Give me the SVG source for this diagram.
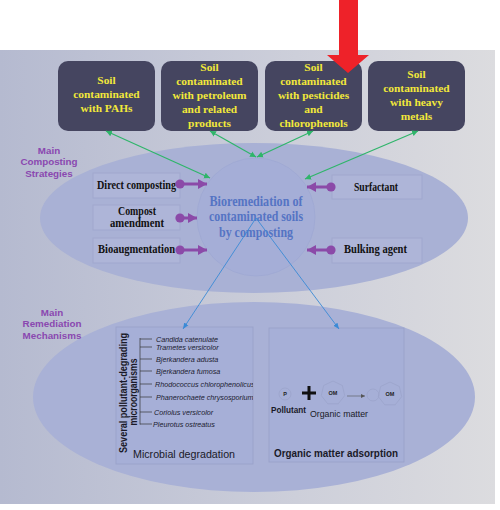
<svg xmlns="http://www.w3.org/2000/svg" width="500" height="510" viewBox="0 0 500 510">
  <defs>
    <linearGradient id="bg" x1="0" y1="0" x2="1" y2="0">
      <stop offset="0" stop-color="#b5bad0"/>
      <stop offset="0.6" stop-color="#cdcfda"/>
      <stop offset="1" stop-color="#dcdcdf"/>
    </linearGradient>
    <marker id="pdot" markerUnits="userSpaceOnUse" markerWidth="12" markerHeight="12" refX="6" refY="6" orient="auto">
      <circle cx="6" cy="6" r="4.6" fill="#8b4aa8"/>
    </marker>
    <marker id="phead" markerUnits="userSpaceOnUse" markerWidth="12" markerHeight="12" refX="9" refY="6" orient="auto">
      <path d="M0,1 L9,6 L0,11 Z" fill="#8b4aa8"/>
    </marker>
    <marker id="gend" markerUnits="userSpaceOnUse" markerWidth="8" markerHeight="8" refX="6" refY="4" orient="auto-start-reverse">
      <path d="M0,1 L6,4 L0,7 Z" fill="#2fb56a"/>
    </marker>
    <marker id="bend" markerUnits="userSpaceOnUse" markerWidth="8" markerHeight="8" refX="6" refY="4" orient="auto">
      <path d="M0,1.5 L6,4 L0,6.5 Z" fill="#3a8ad6"/>
    </marker>
    <marker id="kend" markerUnits="userSpaceOnUse" markerWidth="6" markerHeight="6" refX="4" refY="3" orient="auto">
      <path d="M0,1 L4,3 L0,5 Z" fill="#555"/>
    </marker>
    <polygon id="hept" points="0,-12 9.38,-7.48 11.7,2.67 5.21,10.81 -5.21,10.81 -11.7,2.67 -9.38,-7.48"/>
    <clipPath id="mclip"><rect x="116" y="327" width="137" height="137"/></clipPath>
    <style>
      .src rect { fill:#454560; }
      .src text { font-family:"Liberation Serif","Times New Roman",serif; font-weight:bold; font-size:11.4px; fill:#f2e83a; text-anchor:middle; }
      .strat rect { fill:#aeb5d8; stroke:#9ea6cc; stroke-width:0.8; }
      .strat text { font-family:"Liberation Serif","Times New Roman",serif; font-weight:bold; font-size:13px; fill:#111; text-anchor:middle; }
      .strat text.two { font-size:11.5px; }
      .hub text { font-family:"Liberation Serif","Times New Roman",serif; font-weight:bold; font-size:14.5px; fill:#5574c4; text-anchor:middle; }
      .lbl { font-family:"Liberation Sans",Arial,sans-serif; font-weight:bold; font-size:9.8px; fill:#8a48b0; text-anchor:middle; }
      .mech rect { fill:#a6afd7; stroke:#98a0c8; stroke-width:0.8; }
      .sans { font-family:"Liberation Sans",Arial,sans-serif; fill:#1a1a28; }
      .sp { font-family:"Liberation Sans",Arial,sans-serif; font-style:italic; font-size:7.2px; fill:#202030; }
      .pconn { stroke:#8b4aa8; stroke-width:3; fill:none; marker-start:url(#pdot); marker-end:url(#phead); }
      .gconn { stroke:#2fb56a; stroke-width:1.2; fill:none; marker-start:url(#gend); marker-end:url(#gend); }
      .bconn { stroke:#3a8ad6; stroke-width:0.9; fill:none; marker-end:url(#bend); }
      .om { fill:none; stroke:#9aa2c8; stroke-width:0.7; }
      .omt { font-family:"Liberation Sans",Arial,sans-serif; font-weight:bold; font-size:5.5px; fill:#222; text-anchor:middle; }
    </style>
  </defs>

  <rect x="0" y="0" width="500" height="510" fill="#ffffff"/>
  <rect x="0" y="50" width="495" height="454" fill="url(#bg)"/>

  <!-- big ellipses -->
  <ellipse id="strategies-area" cx="254" cy="218" rx="214" ry="75" fill="#a9b1d5"/>
  <ellipse id="mechanisms-area" cx="254" cy="397" rx="221" ry="95" fill="#a9b1d6"/>

  <text class="lbl" id="lbl-strategies"><tspan x="49" y="153.5">Main</tspan><tspan x="49" y="165">Composting</tspan><tspan x="49" y="176.5">Strategies</tspan></text>
  <text class="lbl" id="lbl-mechanisms"><tspan x="52" y="315.5">Main</tspan><tspan x="52" y="327">Remediation</tspan><tspan x="52" y="338.5">Mechanisms</tspan></text>

  <!-- hub -->
  <g id="hub" class="hub">
    <circle cx="256" cy="217" r="59" fill="#a5aed7" stroke="#9ca6d2" stroke-width="0.6"/>
    <text x="256" y="206" textLength="93" lengthAdjust="spacingAndGlyphs">Bioremediation of</text>
    <text x="256" y="221" textLength="94" lengthAdjust="spacingAndGlyphs">contaminated soils</text>
    <text x="256" y="236.5" textLength="74" lengthAdjust="spacingAndGlyphs">by composting</text>
  </g>

  <!-- source nodes -->
  <g id="src-pahs" class="src">
    <rect x="58" y="61" width="97" height="70" rx="10"/>
    <text x="106.5" y="84">Soil</text>
    <text x="106.5" y="98">contaminated</text>
    <text x="106.5" y="112">with PAHs</text>
  </g>
  <g id="src-petroleum" class="src">
    <rect x="161" y="61" width="97" height="70" rx="10"/>
    <text x="209.5" y="70.5">Soil</text>
    <text x="209.5" y="84.5">contaminated</text>
    <text x="209.5" y="98.5">with petroleum</text>
    <text x="209.5" y="112.5">and related</text>
    <text x="209.5" y="126.5">products</text>
  </g>
  <g id="src-pesticides" class="src">
    <rect x="265" y="61" width="97" height="70" rx="10"/>
    <text x="313.5" y="70.5">Soil</text>
    <text x="313.5" y="84.5">contaminated</text>
    <text x="313.5" y="98.5">with pesticides</text>
    <text x="313.5" y="112.5">and</text>
    <text x="313.5" y="126.5">chlorophenols</text>
  </g>
  <g id="src-metals" class="src">
    <rect x="368" y="61" width="97" height="70" rx="10"/>
    <text x="416.5" y="77.5">Soil</text>
    <text x="416.5" y="91.5">contaminated</text>
    <text x="416.5" y="105.5">with heavy</text>
    <text x="416.5" y="119.5">metals</text>
  </g>

  <!-- strategy nodes -->
  <g id="st-direct" class="strat">
    <rect x="93" y="173" width="87" height="25"/>
    <text x="136.5" y="188.5" textLength="79" lengthAdjust="spacingAndGlyphs">Direct composting</text>
  </g>
  <g id="st-amendment" class="strat">
    <rect x="93" y="205" width="87" height="25"/>
    <text class="two" x="137" y="214.5" textLength="38" lengthAdjust="spacingAndGlyphs">Compost</text>
    <text class="two" x="137" y="227" textLength="54" lengthAdjust="spacingAndGlyphs">amendment</text>
  </g>
  <g id="st-bioaug" class="strat">
    <rect x="93" y="238" width="87" height="25"/>
    <text x="136.5" y="253" textLength="77" lengthAdjust="spacingAndGlyphs">Bioaugmentation</text>
  </g>
  <g id="st-surfactant" class="strat">
    <rect x="332" y="175" width="90" height="24"/>
    <text x="376" y="190.5" textLength="44" lengthAdjust="spacingAndGlyphs">Surfactant</text>
  </g>
  <g id="st-bulking" class="strat">
    <rect x="332" y="238" width="90" height="25"/>
    <text x="375.5" y="253" textLength="63" lengthAdjust="spacingAndGlyphs">Bulking agent</text>
  </g>

  <!-- mechanism nodes -->
  <g id="mech-microbial" class="mech">
    <rect x="116" y="327" width="137" height="137"/>
    <text class="sans" transform="translate(126.5,393) rotate(-90)" text-anchor="middle" font-size="10.5" font-weight="bold" textLength="120" lengthAdjust="spacingAndGlyphs">Several pollutant-degrading</text>
    <text class="sans" transform="translate(137,392) rotate(-90)" text-anchor="middle" font-size="10.5" font-weight="bold" textLength="67" lengthAdjust="spacingAndGlyphs">microorganisms</text>
    <path d="M140,338 V424.5 M140,339 H152 M140,347 H152 M140,359 H152 M140,371 H152 M140,384 H152 M140,397 H152 M140,412 H152 M140,424 H152" stroke="#333" stroke-width="0.7" fill="none"/>
    <g clip-path="url(#mclip)">
      <text class="sp" x="156" y="341.5">Candida catenulate</text>
      <text class="sp" x="156" y="349.5">Trametes versicolor</text>
      <text class="sp" x="156" y="361.5">Bjerkandera adusta</text>
      <text class="sp" x="156" y="373.5">Bjerkandera fumosa</text>
      <text class="sp" x="155" y="386.5">Rhodococcus chlorophenolicus</text>
      <text class="sp" x="156" y="399.5">Phanerochaete chrysosporium</text>
      <text class="sp" x="154" y="414.5">Coriolus versicolor</text>
      <text class="sp" x="153" y="426.5">Pleurotus ostreatus</text>
    </g>
    <text class="sans" x="133" y="458" font-size="11" textLength="102" lengthAdjust="spacingAndGlyphs">Microbial degradation</text>
  </g>
  <g id="mech-adsorption" class="mech">
    <rect x="269" y="328" width="135" height="134"/>
    <circle class="om" cx="285" cy="394" r="6"/>
    <text class="omt" x="285" y="396">P</text>
    <path d="M302,393 H316 M309,386 V400" stroke="#111" stroke-width="3"/>
    <use href="#hept" x="333" y="393" class="om"/>
    <text class="omt" x="333" y="395">OM</text>
    <line x1="347" y1="396" x2="365" y2="396" stroke="#555" stroke-width="0.6" marker-end="url(#kend)"/>
    <circle class="om" cx="373" cy="395" r="6"/>
    <use href="#hept" x="390" y="394" class="om"/>
    <text class="omt" x="390" y="396">OM</text>
    <text class="sans" x="271" y="413" font-size="9" font-weight="bold" textLength="35" lengthAdjust="spacingAndGlyphs">Pollutant</text>
    <text class="sans" x="310" y="417" font-size="9" textLength="58" lengthAdjust="spacingAndGlyphs">Organic matter</text>
    <text class="sans" x="274" y="457" font-size="11" font-weight="bold" textLength="124" lengthAdjust="spacingAndGlyphs">Organic matter adsorption</text>
  </g>

  <!-- connectors -->
  <g id="connectors">
    <line class="gconn" x1="106" y1="131" x2="210" y2="178"/>
    <line class="gconn" x1="210" y1="131" x2="256" y2="157"/>
    <line class="gconn" x1="313" y1="131" x2="257" y2="157"/>
    <line class="gconn" x1="418" y1="131" x2="305" y2="179"/>
    <line class="pconn" x1="180" y1="184" x2="207" y2="184"/>
    <line class="pconn" x1="180" y1="218" x2="197" y2="218"/>
    <line class="pconn" x1="180" y1="250" x2="207" y2="250"/>
    <line class="pconn" x1="331" y1="187" x2="307" y2="187"/>
    <line class="pconn" x1="331" y1="250" x2="307" y2="250"/>
    <line class="bconn" x1="256" y1="218" x2="183" y2="329"/>
    <line class="bconn" x1="256" y1="218" x2="339" y2="329"/>
  </g>

  <!-- red arrow -->
  <polygon id="red-arrow" points="339,0 358,0 358,55 369,55 348,73 327,55 339,55" fill="#ee2229"/>
</svg>
